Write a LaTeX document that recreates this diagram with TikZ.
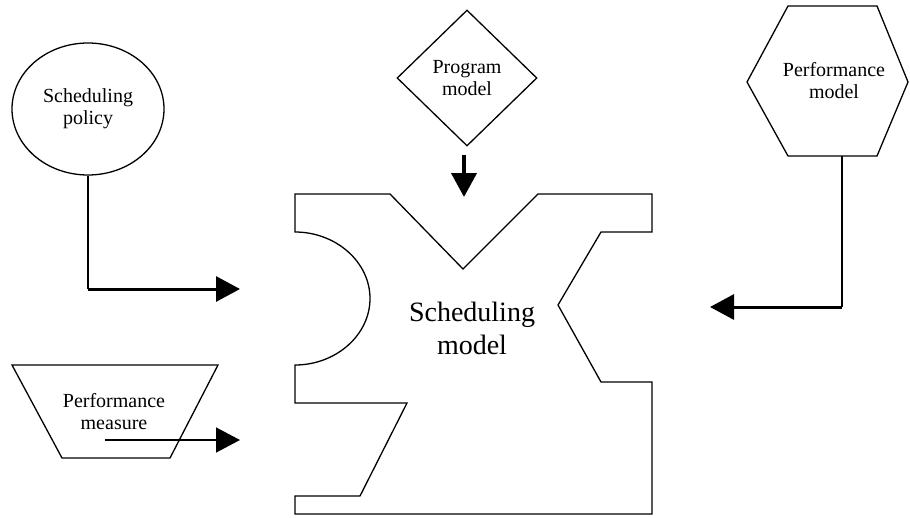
\documentclass[tikz,border=0pt]{standalone}
\usepackage{fontspec}
\setmainfont{Liberation Serif}
\usetikzlibrary{arrows.meta,shapes.geometric}
\begin{document}
\begin{tikzpicture}[x=1pt,y=-1pt,
  outline/.style={draw=black, line width=1.3pt, line join=miter},
  lbl/.style={align=center, font=\fontsize{20}{22}\selectfont, inner sep=0pt},
  biglbl/.style={align=center, font=\fontsize{28}{33}\selectfont, inner sep=0pt},
  feed/.style={line width=1.5pt},
  feedin/.style={line width=3pt, -{Triangle[length=24pt,width=25pt]}},
  feedthin/.style={line width=1.5pt, -{Triangle[length=24pt,width=25pt]}},
]
\useasboundingbox (0,0) rectangle (910,517);

% Scheduling policy (circle)
\node[outline, ellipse, minimum width=152pt, minimum height=132pt, inner sep=0pt,
      lbl] (pol) at (88,109) {Scheduling\\policy};

% Program model (diamond)
\node[outline, diamond, minimum width=140pt, minimum height=136pt, inner sep=0pt,
      lbl] (prog) at (467,78) {Program\\model};

% Performance model (hexagon)
\coordinate (hexNW) at (788,6);
\coordinate (hexNE) at (877,6);
\coordinate (hexE)  at (908,82);
\coordinate (hexSE) at (877,156);
\coordinate (hexSW) at (788,156);
\coordinate (hexW)  at (747,82);
\coordinate (hexOut) at (842,156);
\draw[outline] (hexNW) -- (hexNE) -- (hexE) -- (hexSE) -- (hexSW) -- (hexW) -- cycle;
\node[lbl] (pmod) at (834,81) {Performance\\model};

% Performance measure (inverted trapezium)
\coordinate (trNW) at (12,365);
\coordinate (trNE) at (218,365);
\coordinate (trSE) at (170,458);
\coordinate (trSW) at (62,458);
\draw[outline] (trNW) -- (trNE) -- (trSE) -- (trSW) -- cycle;
\node[lbl] (pmeas) at (114,412) {Performance\\measure};

% Scheduling model (jigsaw-like piece)
\draw[outline] (295,194) -- (390,194) -- (463,269) -- (538,194) -- (652,194)
  -- (652,232) -- (601,232) -- (558,305) -- (601,382) -- (652,382)
  -- (652,514) -- (295,514) -- (295,496) -- (360,496) -- (407,403)
  -- (295,403) -- (295,365)
  .. controls (336,365) and (370,335) .. (370,298.5)
  .. controls (370,262) and (336,232) .. (295,232) -- cycle;
\node[biglbl] (smod) at (472,328) {Scheduling\\model};

% Connectors into the scheduling model
\coordinate (polCorner) at (88,289);
\coordinate (polIn) at (240,289);
\draw[feed] (pol.south) -- (polCorner);
\draw[feedin] (polCorner) -- (polIn);

\coordinate (progOut) at (464,155);
\coordinate (progIn) at (464,197);
\draw[feedin, line width=4pt] (progOut) -- (progIn);

\coordinate (pmCorner) at (842,307);
\coordinate (pmIn) at (710,307);
\draw[feed] (hexOut) -- (pmCorner);
\draw[feedin] (pmCorner) -- (pmIn);

\coordinate (measOut) at (105,440);
\coordinate (measIn) at (240,440);
\draw[feedthin] (measOut) -- (measIn);
\end{tikzpicture}
\end{document}
